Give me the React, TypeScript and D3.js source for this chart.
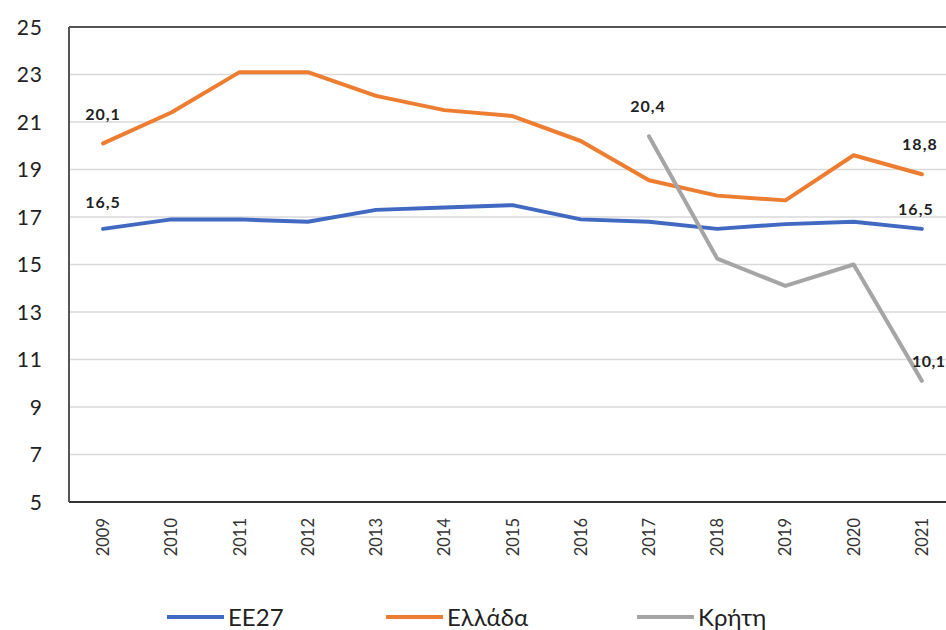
import React from "react";
import * as d3 from "d3";

const years = ["2009","2010","2011","2012","2013","2014","2015","2016","2017","2018","2019","2020","2021"];
const ee27 = [16.5,16.9,16.9,16.8,17.3,17.4,17.5,16.9,16.8,16.5,16.7,16.8,16.5];
const ellada = [20.1,21.4,23.1,23.1,22.1,21.5,21.25,20.2,18.55,17.9,17.7,19.6,18.8];
const kriti: (number|null)[] = [null,null,null,null,null,null,null,null,20.4,15.25,14.1,15.0,10.1];
const yTicks = [5,7,9,11,13,15,17,19,21,23,25];
const seriesNames = ["EE27","Ελλάδα","Κρήτη"];
const colors = ["#4169C2","#ED7D31","#A5A5A5"];

const W = 946, H = 630;
const left = 69, right = 956, top = 27, bottom = 502;

export default function App() {
  const x = d3.scaleBand<string>().domain(years).range([left, right]);
  const cx = (y: string) => (x(y) as number) + x.bandwidth() / 2;
  const y = d3.scaleLinear().domain([5, 25]).range([bottom, top]);
  const series = [ee27, ellada, kriti];
  const line = d3.line<number|null>()
    .defined(d => d != null)
    .x((_, i) => cx(years[i]))
    .y(d => y(d as number));
  const fmt = (v: number) => v.toFixed(1).replace(".", ",");
  const font = "Lato, 'Noto Sans', 'DejaVu Sans', sans-serif";

  const labels: { s: number; i: number; dx: number; dy: number; anchor: string; ls: number }[] = [
    { s: 0, i: 0, dx: 0, dy: -21, anchor: "middle", ls: 1 },
    { s: 0, i: 12, dx: -6, dy: -14, anchor: "middle", ls: 1 },
    { s: 1, i: 0, dx: 0, dy: -23, anchor: "middle", ls: 1 },
    { s: 1, i: 12, dx: -2, dy: -24, anchor: "middle", ls: 1 },
    { s: 2, i: 8, dx: -1, dy: -24, anchor: "middle", ls: 1 },
    { s: 2, i: 12, dx: -10, dy: -14, anchor: "start", ls: 0.5 },
  ];

  const legendX = [167, 386, 637];
  const legendY = 617;

  return (
    <div style={{ position: "absolute", left: 0, top: 0 }}>
      <svg width={W} height={H} style={{ display: "block", background: "#fff" }} fontFamily={font}>
        {yTicks.map(t => (
          <g key={t}>
            {t !== 5 && t !== 25 && (
              <line x1={left} x2={W} y1={y(t)} y2={y(t)} stroke="#d9d9d9" strokeWidth={1.5} />
            )}
            <text x={43} y={y(t)} dy="0.36em" textAnchor="end" fontSize={21} letterSpacing={1} fill="#222">{t}</text>
          </g>
        ))}
        <line x1={left} x2={W} y1={top} y2={top} stroke="#555" strokeWidth={2} />
        <line x1={left} x2={W} y1={bottom} y2={bottom} stroke="#333" strokeWidth={2} />
        <line x1={left} x2={left} y1={top} y2={bottom} stroke="#555" strokeWidth={2} />
        {years.map(yr => (
          <text key={yr} transform={`translate(${cx(yr) + 6},${bottom + 16}) rotate(-90)`} textAnchor="end"
            fontSize={16.5} fill="#333">{yr}</text>
        ))}
        {series.map((s, k) => (
          <path key={k} d={line(s) || ""} fill="none" stroke={colors[k]} strokeWidth={4}
            strokeLinejoin="round" strokeLinecap="round" />
        ))}
        {labels.map((l, k) => {
          const v = series[l.s][l.i] as number;
          return (
            <text key={k} x={cx(years[l.i]) + l.dx} y={y(v) + l.dy} textAnchor={l.anchor}
              fontSize={16} letterSpacing={l.ls} fontWeight="bold" fill="#222">{fmt(v)}</text>
          );
        })}
        {seriesNames.map((n, k) => (
          <g key={n}>
            <line x1={legendX[k]} x2={legendX[k] + 57} y1={legendY} y2={legendY} stroke={colors[k]} strokeWidth={4} />
            <text x={legendX[k] + 61} y={legendY} dy="0.36em" fontSize={24} fill="#222">{n}</text>
          </g>
        ))}
      </svg>
    </div>
  );
}
